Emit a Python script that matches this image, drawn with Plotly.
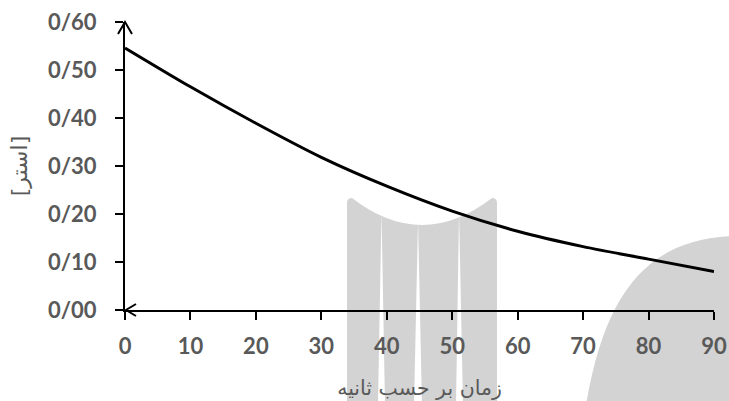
import plotly.graph_objects as go

# time in seconds and measured quantity
t_sec = [0, 10, 20, 30, 40, 50, 60, 70, 80, 90]
conc = [0.546, 0.465, 0.389, 0.318, 0.258, 0.206, 0.164, 0.132, 0.106, 0.080]

x_ticks = [0, 10, 20, 30, 40, 50, 60, 70, 80, 90]
y_ticks = [0, 0.1, 0.2, 0.3, 0.4, 0.5, 0.6]
y_labels = ['0/00', '0/10', '0/20', '0/30', '0/40', '0/50', '0/60']

x_title = 'زمان بر حسب ثانیه'
y_title = '[استر]'

W, H = 729, 401
L, R, T, B = 125, 15, 22, 91
pw, ph = W - L - R, H - T - B

def P(x, y):
    # pixel -> paper coords
    return (x - L) / pw, (H - B - y) / ph

def path(cmds):
    out = []
    for c in cmds:
        if isinstance(c, str):
            out.append(c)
        else:
            px, py = P(*c)
            out.append('%.4f,%.4f' % (px, py))
    return ' '.join(out)

grey = '#d3d3d3'
tick_col = '#595959'

fig = go.Figure()

fig.add_trace(go.Scatter(
    x=t_sec, y=conc,
    mode='lines',
    line=dict(color='black', width=3, shape='spline', smoothing=0.8),
    hoverinfo='skip',
    showlegend=False,
))

shapes = []
# watermark shapes in the background
shapes.append(dict(
    type='path', xref='paper', yref='paper', layer='below', line_width=0, fillcolor=grey,
    path=path(['M', (347, 203), 'Q', (347, 198), (352, 198), 'Q', (422, 252), (492, 198),
               'Q', (497, 198), (497, 203), 'L', (497, 405), 'L', (347, 405), 'Z'])))
for top, b0, b1 in [((381.5, 212), 378, 385), ((418, 220), 414, 422), ((459, 212), 456, 463)]:
    shapes.append(dict(
        type='path', xref='paper', yref='paper', layer='below', line_width=0, fillcolor='white',
        path=path(['M', top, 'L', (b1, 405), 'L', (b0, 405), 'Z'])))
shapes.append(dict(
    type='path', xref='paper', yref='paper', layer='below', line_width=0, fillcolor=grey,
    path=path(['M', (586, 405), 'C', (605, 290), (650, 238), (735, 236), 'L', (735, 405), 'Z'])))

# axis arrow heads
shapes.append(dict(
    type='path', xref='paper', yref='paper', xsizemode='pixel', ysizemode='pixel',
    xanchor=0, yanchor=1, path='M -7,-12 L 0,0 L 7,-12', line=dict(color='black', width=2)))
shapes.append(dict(
    type='path', xref='paper', yref='paper', xsizemode='pixel', ysizemode='pixel',
    xanchor=0, yanchor=0, path='M 11,6 L 1,0 L 11,-6', line=dict(color='black', width=2)))

fig.update_layout(
    width=W, height=H,
    margin=dict(l=L, r=R, t=T, b=B, autoexpand=False),
    paper_bgcolor='white',
    plot_bgcolor='rgba(0,0,0,0)',
    shapes=shapes,
    showlegend=False,
)

fig.update_xaxes(
    range=[0, 90], tickvals=x_ticks, showgrid=False, zeroline=False, automargin=False,
    showline=True, linecolor='black', linewidth=2,
    ticks='outside', ticklen=8, tickwidth=2, tickcolor='black',
    tickfont=dict(family='Lato', size=22, color=tick_col, weight='bold'),
    ticklabelstandoff=8, ticklabeloverflow='allow',
    title=dict(text=x_title, font=dict(family='DejaVu Sans', size=20.5, color=tick_col), standoff=22),
)
fig.update_yaxes(
    range=[0, 0.6], tickvals=y_ticks, ticktext=y_labels, showgrid=False, zeroline=False,
    automargin=False,
    showline=True, linecolor='black', linewidth=2,
    ticks='outside', ticklen=8, tickwidth=2, tickcolor='black',
    tickfont=dict(family='Lato', size=22, color=tick_col, weight='bold'),
    ticklabelstandoff=14, ticklabeloverflow='allow',
    title=dict(text=y_title, font=dict(family='DejaVu Sans', size=22, color=tick_col), standoff=14),
)

# drop the default page margin so the figure fills the window exactly
fig.write_html('out.html', config={'displayModeBar': False},
               post_script="document.body.style.margin='0';document.body.style.overflow='hidden';")
